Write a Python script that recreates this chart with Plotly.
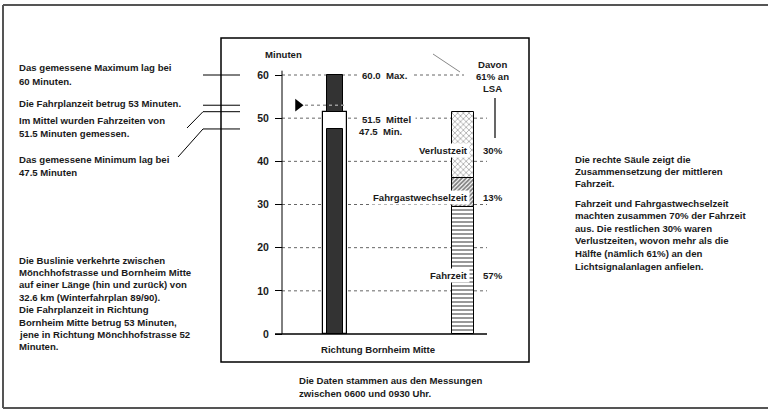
import plotly.graph_objects as go

# ---------------- data ----------------
Y_TICKS = [0, 10, 20, 30, 40, 50, 60]
MAXIMUM = 60.0
FAHRPLANZEIT = 53.0
MITTEL = 51.5
MINIMUM = 47.5
BARS = ["Messung", "Zusammensetzung"]
COMPONENTS = ["Fahrzeit", "Fahrgastwechselzeit", "Verlustzeit"]
SHARES = [57, 13, 30]          # % of mean travel time
LSA_SHARE = 61                 # % of Verlustzeit at traffic lights

LEFT_TOP = [("Das gemessene Maximum lag bei", 67), ("60 Minuten.", 82),
            ("Die Fahrplanzeit betrug 53 Minuten.", 103),
            ("Im Mittel wurden Fahrzeiten von", 120), ("51.5 Minuten gemessen.", 133),
            ("Das gemessene Minimum lag bei", 159), ("47.5 Minuten", 173)]
LEFT_BOTTOM = ["Die Buslinie verkehrte zwischen",
               "Mönchhofstrasse und Bornheim Mitte",
               "auf einer Länge (hin und zurück) von",
               "32.6 km (Winterfahrplan 89/90).",
               "Die Fahrplanzeit in Richtung",
               "Bornheim Mitte betrug 53 Minuten,",
               "jene in Richtung Mönchhofstrasse 52",
               "Minuten."]
RIGHT_1 = ["Die rechte Säule zeigt die", "Zusammensetzung der mittleren", "Fahrzeit."]
RIGHT_2 = ["Fahrzeit und Fahrgastwechselzeit", "machten zusammen 70% der Fahrzeit",
           "aus. Die restlichen 30% waren", "Verlustzeiten, wovon mehr als die",
           "Hälfte (nämlich 61%) an den", "Lichtsignalanlagen anfielen."]
FOOT = ["Die Daten stammen aus den Messungen", "zwischen 0600 und 0930 Uhr."]

# ---------------- layout helpers ----------------
W, H = 768, 410
Y0_PX, Y60_PX = 334, 75
PX = (Y0_PX - Y60_PX) / 60.0
Y_RANGE = [-(H - Y0_PX) / PX, Y0_PX / PX]
FONT = dict(family="Liberation Sans", size=9.6, color="#1a1a1a", weight="bold")
DARK = "#333333"
NB = "\u00a0\u00a0"


def px(x):
    return x / W


def py(y):
    return 1 - y / H


def v_of(p):
    return (Y0_PX - p) / PX


fig = go.Figure()

# left bar: mean box, minimum, maximum
fig.add_trace(go.Bar(x=[BARS[0]], y=[MITTEL], width=0.19, xaxis="x2", yaxis="y",
                     marker=dict(color="white", line=dict(color="black", width=1.2)),
                     name="Mittel"))
fig.add_trace(go.Bar(x=[BARS[0]], y=[MINIMUM], width=0.13, xaxis="x2", yaxis="y",
                     marker=dict(color=DARK, line=dict(color="black", width=1)),
                     name="Minimum"))
fig.add_trace(go.Bar(x=[BARS[0]], y=[MAXIMUM - MITTEL], base=[MITTEL], width=0.13,
                     xaxis="x2", yaxis="y",
                     marker=dict(color=DARK, line=dict(color="black", width=1)),
                     name="Maximum"))

# right bar: composition of mean
patterns = [dict(shape="-", fgcolor="black", bgcolor="white", size=4, solidity=0.4),
            dict(shape="/", fgcolor="black", bgcolor="white", size=3, solidity=0.6),
            dict(shape="x", fgcolor="#222", bgcolor="white", size=4, solidity=0.3)]
base = 0.0
mids = []
for comp, share, pat in zip(COMPONENTS, SHARES, patterns):
    h = MITTEL * share / 100.0
    fig.add_trace(go.Bar(x=[BARS[1]], y=[h], base=[base], width=0.172,
                         xaxis="x2", yaxis="y", name=comp,
                         marker=dict(color="white", pattern=pat,
                                     line=dict(color="black", width=1))))
    mids.append(base + h / 2)
    base += h

# Fahrplanzeit marker
fig.add_trace(go.Scatter(x=[298], y=[FAHRPLANZEIT], mode="markers", xaxis="x", yaxis="y",
                         marker=dict(symbol="triangle-right", size=11, color="black"),
                         name="Fahrplanzeit"))

shapes = []
# outer frame (left, top, bottom) and panel
FRAME = dict(color="#555", width=2)
shapes.append(dict(type="line", xref="paper", yref="paper", x0=px(3), x1=px(3),
                   y0=py(5), y1=py(408), line=FRAME))
shapes.append(dict(type="line", xref="paper", yref="paper", x0=px(3), x1=px(800),
                   y0=py(5), y1=py(5), line=FRAME))
shapes.append(dict(type="line", xref="paper", yref="paper", x0=px(3), x1=px(800),
                   y0=py(408), y1=py(408), line=FRAME))
shapes.append(dict(type="rect", xref="paper", yref="paper", x0=px(221), x1=px(529),
                   y0=py(38), y1=py(362), line=dict(color="black", width=1.5)))
# gridlines
for v in Y_TICKS:
    if v == 0:
        shapes.append(dict(type="line", xref="x", yref="y", x0=275, x1=487, y0=v, y1=v,
                           line=dict(color="black", width=1.5), layer="below"))
    else:
        x1 = 464 if v == Y_TICKS[-1] else 487
        shapes.append(dict(type="line", xref="x", yref="y", x0=282, x1=x1, y0=v, y1=v,
                           line=dict(color="#666", width=1, dash="dot"), layer="below"))
# y axis line
shapes.append(dict(type="line", xref="x", yref="y", x0=282, x1=282, y0=0, y1=MAXIMUM + 1,
                   line=dict(color="black", width=1)))
# Fahrplanzeit dotted line
shapes.append(dict(type="line", xref="x", yref="y", x0=305, x1=347,
                   y0=FAHRPLANZEIT, y1=FAHRPLANZEIT,
                   line=dict(color="#999", width=1.5, dash="dot"), layer="above"))
# left connectors
for v in [MAXIMUM, FAHRPLANZEIT, MITTEL, MINIMUM]:
    shapes.append(dict(type="line", xref="x", yref="y", x0=203, x1=240, y0=v, y1=v,
                       line=dict(color="black", width=1)))
shapes.append(dict(type="line", xref="x", yref="y", x0=203, x1=187, y0=MITTEL, y1=v_of(128),
                   line=dict(color="black", width=1)))
shapes.append(dict(type="line", xref="x", yref="y", x0=203, x1=178, y0=MINIMUM, y1=v_of(157),
                   line=dict(color="black", width=1)))
# LSA lines
shapes.append(dict(type="line", xref="paper", yref="paper", x0=px(433), x1=px(460),
                   y0=py(54), y1=py(72), line=dict(color="#888", width=1)))
shapes.append(dict(type="line", xref="paper", yref="paper", x0=px(495), x1=px(495),
                   y0=py(98), y1=py(138), line=dict(color="black", width=1.2)))

ann = []


def txt(text, x, y, xanchor="left", **kw):
    d = dict(text=text, x=px(x), y=py(y), xref="paper", yref="paper", showarrow=False,
             xanchor=xanchor, yanchor="middle", font=FONT)
    d.update(kw)
    ann.append(d)


for t, y in LEFT_TOP:
    txt(t, 17, y)
for i, t in enumerate(LEFT_BOTTOM):
    txt(t, 17, 260 + i * 12.4)
for i, t in enumerate(RIGHT_1):
    txt(t, 573, 159 + i * 12.5)
for i, t in enumerate(RIGHT_2):
    txt(t, 573, 203 + i * 12.6)
for i, t in enumerate(FOOT):
    txt(t, 297, 380 + i * 13)
txt("Minuten", 263, 54)
txt("Richtung Bornheim Mitte", 378, 349, xanchor="center")
for i, t in enumerate(["Davon", f"{LSA_SHARE}% an", "LSA"]):
    txt(t, 492, 64 + i * 12.5, xanchor="center")

# value labels by left bar
ann.append(dict(text=f"{MAXIMUM:.1f}{NB}Max.", x=357, y=MAXIMUM, xref="x", yref="y",
                showarrow=False, xanchor="left", yanchor="middle", font=FONT,
                bgcolor="white", borderpad=4))
txt(f"{MITTEL:.1f}{NB}Mittel", 357, 119, bgcolor="white", borderpad=4)
txt(f"{MINIMUM:.1f}{NB}Min.", 357, 131, bgcolor="white", borderpad=1)

# component labels
for comp, share, m in zip(COMPONENTS, SHARES, mids):
    ann.append(dict(text=comp, x=px(470), y=m, xref="paper", yref="y", showarrow=False,
                    xanchor="right", yanchor="middle", yshift=-5, font=FONT,
                    bgcolor="white", borderpad=1))
    ann.append(dict(text=f"{share}%", x=px(493), y=m, xref="paper", yref="y",
                    showarrow=False, xanchor="center", yanchor="middle", yshift=-5,
                    font=FONT))

fig.update_layout(
    width=W, height=H, margin=dict(l=0, r=0, t=0, b=0),
    paper_bgcolor="white", plot_bgcolor="rgba(0,0,0,0)",
    showlegend=False, barmode="overlay", bargap=0,
    xaxis=dict(domain=[0, 1], range=[0, W], visible=False, fixedrange=True),
    xaxis2=dict(domain=[271 / W, 527 / W], type="category", categoryarray=BARS,
                categoryorder="array", range=[-0.5, 1.5], anchor="y", visible=False),
    yaxis=dict(domain=[0, 1], range=Y_RANGE, anchor="free", position=282 / W,
               tickvals=Y_TICKS, ticks="outside", ticklen=7, tickcolor="black",
               tickwidth=1, showgrid=False, zeroline=False, showline=False,
               tickfont=dict(family="Liberation Sans", size=10.5, color="#1a1a1a",
                             weight="bold"),
               ticklabelstandoff=4),
    shapes=shapes, annotations=ann,
)

fig.write_html("out.html", config={"displayModeBar": False},
               post_script="document.body.style.margin='0';"
                           "document.body.style.overflow='hidden';")
